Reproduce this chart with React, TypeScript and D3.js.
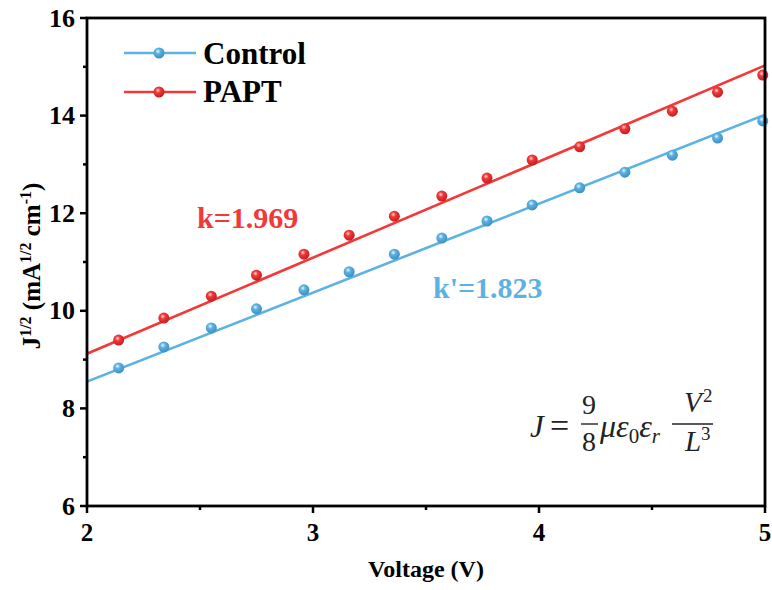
import React from "react";
import * as d3 from "d3";

const voltage = [2.14, 2.34, 2.55, 2.75, 2.96, 3.16, 3.36, 3.57, 3.77, 3.97, 4.18, 4.38, 4.59, 4.79, 4.99];
const controlJ = [8.83, 9.26, 9.65, 10.04, 10.43, 10.8, 11.16, 11.49, 11.84, 12.17, 12.52, 12.84, 13.19, 13.54, 13.89];
const paptJ = [9.4, 9.85, 10.3, 10.73, 11.16, 11.55, 11.94, 12.35, 12.72, 13.09, 13.36, 13.73, 14.09, 14.48, 14.83];

// linear fits: slope and value at V = 2
const controlSlope = 1.823;
const controlAt2 = 8.55;
const paptSlope = 1.969;
const paptAt2 = 9.12;

const xTicks = [2, 3, 4, 5];
const xMinor = [2.5, 3.5, 4.5];
const yTicks = [6, 8, 10, 12, 14, 16];
const yMinor = [7, 9, 11, 13, 15];

const BLUE = "#5cb2e2";
const RED = "#f23838";

const W = 772;
const H = 590;
const L = 87;
const R = 765;
const T = 18;
const B = 506;

const x = d3.scaleLinear().domain([2, 5]).range([L, R]);
const y = d3.scaleLinear().domain([6, 16]).range([B, T]);

const serif = "Liberation Serif, Times New Roman, DejaVu Serif, serif";
const txt = { fontFamily: serif };

function fitLine(slope: number, at2: number) {
  const line = d3
    .line<number>()
    .x((v) => x(v))
    .y((v) => y(at2 + slope * (v - 2)));
  return line([2, 5]) || "";
}

function Dots({ vals, grad }: { vals: number[]; grad: string }) {
  return (
    <g>
      {vals.map((v, i) => (
        <circle key={i} cx={x(voltage[i])} cy={y(v)} r={5.5} fill={`url(#${grad})`} />
      ))}
    </g>
  );
}

export default function App() {
  return (
    <svg
      width={W}
      height={H}
      style={{ position: "absolute", left: 0, top: 0, background: "#fff", fontFamily: serif }}
    >
      <defs>
        <radialGradient id="gBlue" cx="40%" cy="35%" r="65%">
          <stop offset="0%" stopColor="#e8f6ff" />
          <stop offset="35%" stopColor={BLUE} />
          <stop offset="100%" stopColor="#3d8fc0" />
        </radialGradient>
        <radialGradient id="gRed" cx="40%" cy="35%" r="65%">
          <stop offset="0%" stopColor="#ffd6d6" />
          <stop offset="35%" stopColor={RED} />
          <stop offset="100%" stopColor="#c21f1f" />
        </radialGradient>
        <clipPath id="plot">
          <rect x={L} y={T} width={R - L} height={B - T} />
        </clipPath>
      </defs>

      {/* fitted lines */}
      <g clipPath="url(#plot)">
        <path d={fitLine(controlSlope, controlAt2)} stroke={BLUE} strokeWidth={2.6} fill="none" />
        <path d={fitLine(paptSlope, paptAt2)} stroke={RED} strokeWidth={2.6} fill="none" />
      </g>
      <Dots vals={controlJ} grad="gBlue" />
      <Dots vals={paptJ} grad="gRed" />

      {/* frame */}
      <rect x={L} y={T} width={R - L} height={B - T} fill="none" stroke="#000" strokeWidth={2.8} />

      {/* x axis ticks */}
      {xTicks.map((t) => (
        <g key={t}>
          <line x1={x(t)} x2={x(t)} y1={B} y2={B + 7} stroke="#000" strokeWidth={2.5} />
          <text style={txt} x={x(t)} y={B + 35} textAnchor="middle" fontSize={25} fontWeight="bold">
            {t}
          </text>
        </g>
      ))}
      {xMinor.map((t) => (
        <line key={t} x1={x(t)} x2={x(t)} y1={B} y2={B + 4} stroke="#000" strokeWidth={2.5} />
      ))}

      {/* y axis ticks */}
      {yTicks.map((t) => (
        <g key={t}>
          <line x1={L - 7} x2={L} y1={y(t)} y2={y(t)} stroke="#000" strokeWidth={2.5} />
          <text style={txt} x={L - 12} y={y(t) + 8.5} textAnchor="end" fontSize={26} fontWeight="bold">
            {t}
          </text>
        </g>
      ))}
      {yMinor.map((t) => (
        <line key={t} x1={L - 4} x2={L} y1={y(t)} y2={y(t)} stroke="#000" strokeWidth={2.5} />
      ))}

      {/* axis titles */}
      <text style={txt} x={(L + R) / 2} y={577} textAnchor="middle" fontSize={24} fontWeight="bold">
        Voltage (V)
      </text>
      <text
        style={txt}
        transform={`translate(40, 266) rotate(-90)`}
        textAnchor="middle"
        fontSize={25}
        fontWeight="bold"
      >
        J<tspan fontSize={16} dy={-9}>1/2</tspan>
        <tspan dy={9}> (mA</tspan>
        <tspan fontSize={16} dy={-9}>1/2</tspan>
        <tspan dy={9}> cm</tspan>
        <tspan fontSize={16} dy={-9}>-1</tspan>
        <tspan dy={9}>)</tspan>
      </text>

      {/* legend */}
      <g style={txt}>
        <line x1={124} x2={196} y1={53} y2={53} stroke={BLUE} strokeWidth={2.6} />
        <circle cx={159} cy={53} r={5.5} fill="url(#gBlue)" />
        <text x={203} y={64} fontSize={31} fontWeight="bold">Control</text>
        <line x1={124} x2={196} y1={92} y2={92} stroke={RED} strokeWidth={2.6} />
        <circle cx={159} cy={92} r={5.5} fill="url(#gRed)" />
        <text x={203} y={102} fontSize={31} fontWeight="bold">PAPT</text>
      </g>

      {/* slope annotations */}
      <text style={txt} x={197} y={228} fontSize={30} fontWeight="bold" fill={RED}>
        k=1.969
      </text>
      <text style={txt} x={433} y={298} fontSize={30} fontWeight="bold" fill={BLUE}>
        k'=1.823
      </text>

      {/* Mott-Gurney law */}
      <g style={txt} fontSize={29} fill="#222">
        <text x={530} y={437} fontStyle="italic" fontSize={31}>J</text>
        <text x={550} y={437} fontSize={34}>=</text>
        <text x={589} y={414} textAnchor="middle" fontSize={28}>9</text>
        <line x1={581} x2={598} y1={424} y2={424} stroke="#222" strokeWidth={1.4} />
        <text x={589} y={451} textAnchor="middle" fontSize={28}>8</text>
        <text x={600} y={437} fontStyle="italic" fontSize={32}>
          με<tspan fontSize={21} fontStyle="normal" dy={6}>0</tspan>
          <tspan dy={-6}>ε</tspan>
          <tspan fontSize={21} dy={6}>r</tspan>
        </text>
        <text x={684} y={412} fontStyle="italic">V</text>
        <text x={703} y={402} fontSize={19}>2</text>
        <line x1={672} x2={713} y1={424} y2={424} stroke="#222" strokeWidth={1.4} />
        <text x={685} y={451} fontStyle="italic">L</text>
        <text x={701} y={440} fontSize={19}>3</text>
      </g>
    </svg>
  );
}
